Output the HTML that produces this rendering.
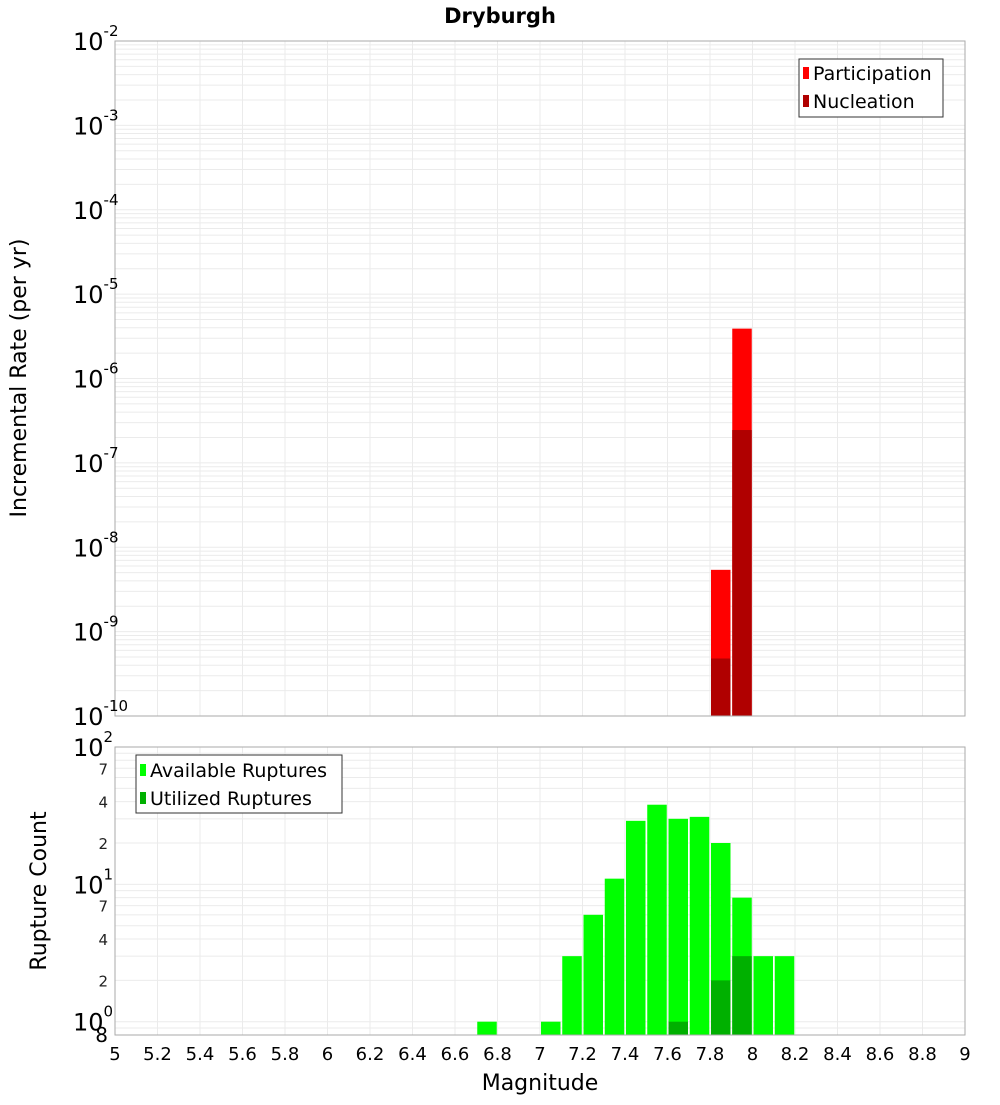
<!DOCTYPE html>
<html><head><meta charset="utf-8"><style>
body{margin:0;background:#fff;font-family:"Liberation Sans","DejaVu Sans",sans-serif}
svg text{font-family:"DejaVu Sans","Liberation Sans",sans-serif}
</style></head><body>
<svg id="c" width="1000" height="1100" xmlns="http://www.w3.org/2000/svg">
<text x="500" y="23" text-anchor="middle" font-size="21" font-weight="bold">Dryburgh</text>
<text transform="translate(26,378) rotate(-90)" text-anchor="middle" font-size="22">Incremental Rate (per yr)</text>
<text transform="translate(46,891) rotate(-90)" text-anchor="middle" font-size="22">Rupture Count</text>
<text x="540" y="1090" text-anchor="middle" font-size="22">Magnitude</text>
<g id="topg"></g><g id="botg"></g>
<g>
<rect x="799" y="59" width="144" height="58" fill="#fff" stroke="#333"/>
<rect x="803" y="67" width="6" height="12" fill="#ff0000"/>
<text x="813" y="80" font-size="19">Participation</text>
<rect x="803" y="95" width="6" height="12" fill="#b00000"/>
<text x="813" y="108" font-size="19">Nucleation</text>
</g>
<g>
<rect x="136" y="755" width="206" height="58" fill="#fff" stroke="#333"/>
<rect x="140" y="764" width="6" height="12" fill="#00ff00"/>
<text x="150" y="777" font-size="19">Available Ruptures</text>
<rect x="140" y="792" width="6" height="12" fill="#00b000"/>
<text x="150" y="805" font-size="19">Utilized Ruptures</text>
</g>
</svg>
<script>
const binCenters=[7.85,7.95];
const participation=[5.4e-9,3.9e-6];
const nucleation=[4.8e-10,2.45e-7];
const countBins=[6.75,7.05,7.15,7.25,7.35,7.45,7.55,7.65,7.75,7.85,7.95,8.05,8.15];
const available=[1,1,3,6,11,29,38,30,31,20,8,3,3];
const utilized=[0,0,0,0,0,0,0,1,0,2,3,0,0];
const xTicks=[5,5.2,5.4,5.6,5.8,6,6.2,6.4,6.6,6.8,7,7.2,7.4,7.6,7.8,8,8.2,8.4,8.6,8.8,9];
const topExps=[-2,-3,-4,-5,-6,-7,-8,-9,-10];
const botExps=[2,1,0];
const botMinorLabels=[2,4,7,20,40,70];

const NS="http://www.w3.org/2000/svg";
const X0=115,X1=965;
const xs=m=>X0+(m-5)/4*(X1-X0);
const T0=41,T1=716;
const ty=v=>T0+(-2-Math.log10(v))/8*(T1-T0);
const B0=747,B1=1035,BMIN=Math.log10(0.8);
const by=v=>B0+(2-Math.log10(v))/(2-BMIN)*(B1-B0);
function el(p,t,a,txt){const e=document.createElementNS(NS,t);for(const k in a)e.setAttribute(k,a[k]);if(txt!=null)e.textContent=txt;p.appendChild(e);return e;}
const topG=document.getElementById('topg'),botG=document.getElementById('botg');
el(topG,'rect',{x:X0,y:T0,width:X1-X0,height:T1-T0,fill:'#fff'});
el(botG,'rect',{x:X0,y:B0,width:X1-X0,height:B1-B0,fill:'#fff'});
xTicks.forEach(t=>{
 let g=el(topG,'line',{x1:xs(t),x2:xs(t),y1:T0,y2:T1,stroke:'#ebebeb'});
 
 
 let h=el(botG,'line',{x1:xs(t),x2:xs(t),y1:B0,y2:B1,stroke:'#ebebeb'});
 
 
 let l=el(botG,'text',{x:xs(t),y:1060,'text-anchor':'middle','font-size':18},String(t));
 
 
});
for(let e=-10;e<-2;e++)for(let k=1;k<10;k++){const v=k*Math.pow(10,e);const y=ty(v);
 let g=el(topG,'line',{x1:X0,x2:X1,y1:y,y2:y,stroke:'#ebebeb'});
 
 }
for(let e=-1;e<2;e++)for(let k=1;k<10;k++){const v=k*Math.pow(10,e);if(v<0.8)continue;const y=by(v);
 let g=el(botG,'line',{x1:X0,x2:X1,y1:y,y2:y,stroke:'#ebebeb'});
 
 }
binCenters.forEach((c,i)=>{
 let p=el(topG,'rect',{x:xs(c-0.05)+1,y:ty(participation[i]),width:19.5,height:T1-ty(participation[i]),fill:'#ff0000'});
 
 
 let n=el(topG,'rect',{x:xs(c-0.05)+1,y:ty(nucleation[i]),width:19.5,height:T1-ty(nucleation[i]),fill:'#b00000'});
 
 
});
countBins.forEach((c,i)=>{
 if(available[i]>0){let a=el(botG,'rect',{x:xs(c-0.05)+1,y:by(available[i]),width:19.5,height:B1-by(available[i]),fill:'#00ff00'});
 
 }
 if(utilized[i]>0){let u=el(botG,'rect',{x:xs(c-0.05)+1,y:by(utilized[i]),width:19.5,height:B1-by(utilized[i]),fill:'#00b000'});
 
 }
});
el(topG,'rect',{x:X0,y:T0,width:X1-X0,height:T1-T0,fill:'none',stroke:'#aaa'});
el(botG,'rect',{x:X0,y:B0,width:X1-X0,height:B1-B0,fill:'none',stroke:'#aaa'});
topExps.forEach(e=>{const y=ty(Math.pow(10,e));
 let t=el(topG,'text',{x:73,y:y+9,'font-size':24});
 
 
 el(t,'tspan',{},'10');el(t,'tspan',{dy:-14,'font-size':15},String(e));
});
botExps.forEach(e=>{const y=by(Math.pow(10,e));
 let t=el(botG,'text',{x:73,y:y+9,'font-size':24});
 
 
 el(t,'tspan',{},'10');el(t,'tspan',{dy:-14,'font-size':15},String(e));
});
botMinorLabels.forEach(v=>{
 let t=el(botG,'text',{x:108,y:by(v)+6,'text-anchor':'end','font-size':15,fill:'#222'},String(v%10===0?v/10:v));
 
 
});
let m=el(botG,'text',{x:108,y:1042,'text-anchor':'end','font-size':20},'8');


</script>
</body></html>
